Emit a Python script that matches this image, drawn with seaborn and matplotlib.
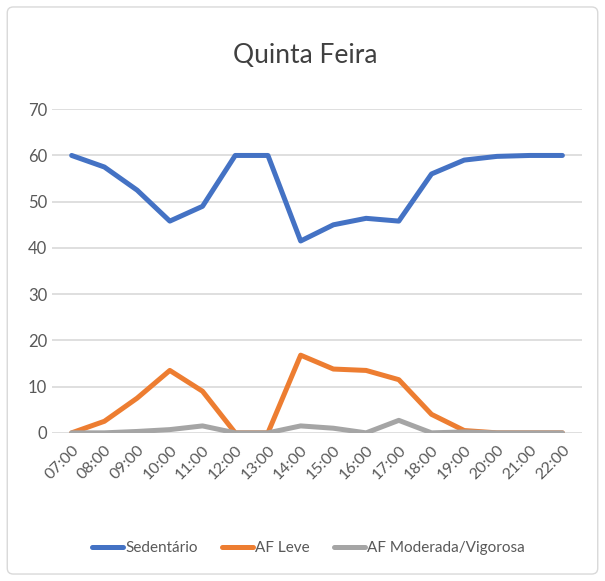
import pandas as pd
import matplotlib.pyplot as plt
import seaborn as sns
from matplotlib.patches import FancyBboxPatch
from matplotlib.lines import Line2D

# Dados
horas = ['07:00', '08:00', '09:00', '10:00', '11:00', '12:00', '13:00', '14:00',
         '15:00', '16:00', '17:00', '18:00', '19:00', '20:00', '21:00', '22:00']
sedentario = [60, 57.5, 52.5, 45.8, 49, 60, 60, 41.5, 45, 46.4, 45.8, 56, 59, 59.8, 60, 60]
af_leve = [0, 2.5, 7.5, 13.5, 9, 0, 0, 16.8, 13.8, 13.5, 11.5, 4, 0.5, 0, 0, 0]
af_moderada = [0, 0, 0.3, 0.7, 1.5, 0, 0, 1.5, 1, 0, 2.7, 0, 0.2, 0, 0, 0]

df = pd.DataFrame({'Hora': horas, 'Sedentário': sedentario,
                   'AF Leve': af_leve, 'AF Moderada/Vigorosa': af_moderada})
df_long = df.melt(id_vars='Hora', var_name='Tipo', value_name='Valor')

sns.set_style('white')
plt.rcParams['font.family'] = ['Lato', 'DejaVu Sans']

cores = {'Sedentário': '#4472C4', 'AF Leve': '#ED7D31', 'AF Moderada/Vigorosa': '#A5A5A5'}

fig = plt.figure(figsize=(6.05, 5.81), dpi=100)
ax = fig.add_axes([0.086, 0.255, 0.876, 0.557])

# moldura do gráfico
fig.patches.append(FancyBboxPatch((0.012, 0.012), 0.976, 0.976, boxstyle='round,pad=0,rounding_size=0.01',
                                  transform=fig.transFigure, fill=False, edgecolor='#D9D9D9', linewidth=1))

sns.lineplot(data=df_long, x='Hora', y='Valor', hue='Tipo', palette=cores, linewidth=3.6,
             sort=False, ax=ax, legend=False)

ax.set_xlim(-0.6, 15.6)
ax.set_ylim(0, 70)
ax.set_yticks(range(0, 71, 10))
ax.yaxis.grid(True, color='#D9D9D9', linewidth=1.2)
ax.set_axisbelow(True)
for s in ax.spines.values():
    s.set_visible(False)
ax.set_xlabel('')
ax.set_ylabel('')
ax.tick_params(axis='both', colors='#595959', labelsize=12, length=0)
ax.tick_params(axis='x', pad=7, labelsize=11.5)
plt.setp(ax.get_xticklabels(), rotation=45, ha='right', rotation_mode='anchor')

fig.text(0.505, 0.905, 'Quinta Feira', ha='center', va='center', fontsize=19, color='#404040')

# legenda
handles = [Line2D([0], [0], color=c, linewidth=3.6) for c in cores.values()]
fig.legend(handles, list(cores.keys()), loc='center', bbox_to_anchor=(0.51, 0.057), ncol=3,
           frameon=False, fontsize=11, labelcolor='#595959', handlelength=2.0,
           handletextpad=0.15, columnspacing=1.6)

plt.savefig('out.png', dpi=100)
